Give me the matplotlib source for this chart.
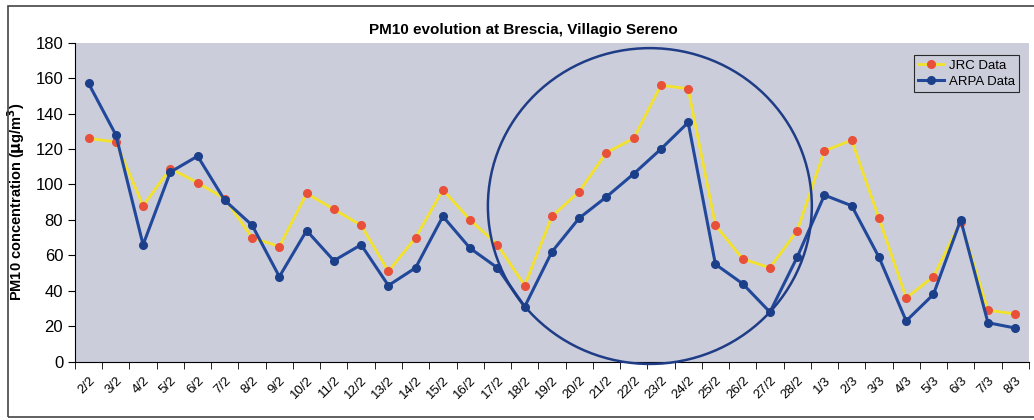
import numpy as np
import matplotlib.pyplot as plt
from matplotlib.patches import Ellipse, Rectangle

plt.rcParams['font.family'] = ['Liberation Sans', 'DejaVu Sans']

days = ["2/2", "3/2", "4/2", "5/2", "6/2", "7/2", "8/2", "9/2", "10/2", "11/2",
        "12/2", "13/2", "14/2", "15/2", "16/2", "17/2", "18/2", "19/2", "20/2",
        "21/2", "22/2", "23/2", "24/2", "25/2", "26/2", "27/2", "28/2", "1/3",
        "2/3", "3/3", "4/3", "5/3", "6/3", "7/3", "8/3"]

jrc = [126, 124, 88, 109, 101, 92, 70, 65, 95, 86,
       77, 51, 70, 97, 80, 66, 43, 82, 96,
       118, 126, 156, 154, 77, 58, 53, 74, 119,
       125, 81, 36, 48, 79, 29, 27]

arpa = [157, 128, 66, 107, 116, 91, 77, 48, 74, 57,
        66, 43, 53, 82, 64, 53, 31, 62, 81,
        93, 106, 120, 135, 55, 44, 28, 59, 94,
        88, 59, 23, 38, 80, 22, 19]

bg = '#cbcdda'
fig = plt.figure(figsize=(10.34, 4.2), dpi=100)
ax = fig.add_axes([0.0725, 0.1388, 0.9225, 0.7595])
ax.set_facecolor(bg)

x = np.arange(len(days))
ax.plot(x, jrc, color='#f2e22c', lw=2, marker='o', ms=5.5,
        mfc='#e8503a', mec='#e8503a', label='JRC Data', zorder=3)
ax.plot(x, arpa, color='#21489a', lw=2.2, marker='o', ms=5.5,
        mfc='#1c3f8a', mec='#1c3f8a', label='ARPA Data', zorder=4)

ax.set_xlim(-0.5, len(days) - 0.5)
ax.set_ylim(0, 180)
ax.set_yticks(range(0, 181, 20))
ax.set_xticks(x)
ax.set_xticklabels(days, rotation=45, ha='right', rotation_mode='anchor', fontsize=9.5)
ax.set_xticks(np.arange(-0.5, len(days), 1), minor=True)
ax.tick_params(axis='x', which='major', length=0, pad=9)
ax.tick_params(axis='x', which='minor', length=5, direction='out')
ax.tick_params(axis='y', length=5, direction='out', labelsize=12)
for s in ['top', 'right']:
    ax.spines[s].set_visible(False)

ax.set_ylabel(r'PM10 concentration ($\mathbf{\mu}$g/m$^\mathbf{3}$)',
              fontsize=10.5, fontweight='bold', labelpad=6)

leg = ax.legend(loc='upper right', bbox_to_anchor=(0.99, 0.96), fontsize=9.5,
                frameon=True, fancybox=False, facecolor=bg, edgecolor='black',
                handlelength=2.0, handletextpad=0.4, borderpad=0.3,
                labelspacing=0.3, borderaxespad=0)
leg.get_frame().set_linewidth(0.8)

ell = Ellipse((0.6027, 0.488), 0.3396, 0.99, transform=ax.transAxes,
              fill=False, edgecolor='#1f3c86', lw=1.8, clip_on=False, zorder=5)
ax.add_patch(ell)

fig.text(0.506, 0.928, 'PM10 evolution at Brescia, Villagio Sereno',
         ha='center', va='center', fontsize=11, fontweight='bold')

fig.patches.append(Rectangle((8 / 1034, 3 / 420), 1.1, 411 / 420,
                             transform=fig.transFigure, fill=False,
                             edgecolor='#444444', lw=1.2))

fig.savefig('out.png', dpi=100)
